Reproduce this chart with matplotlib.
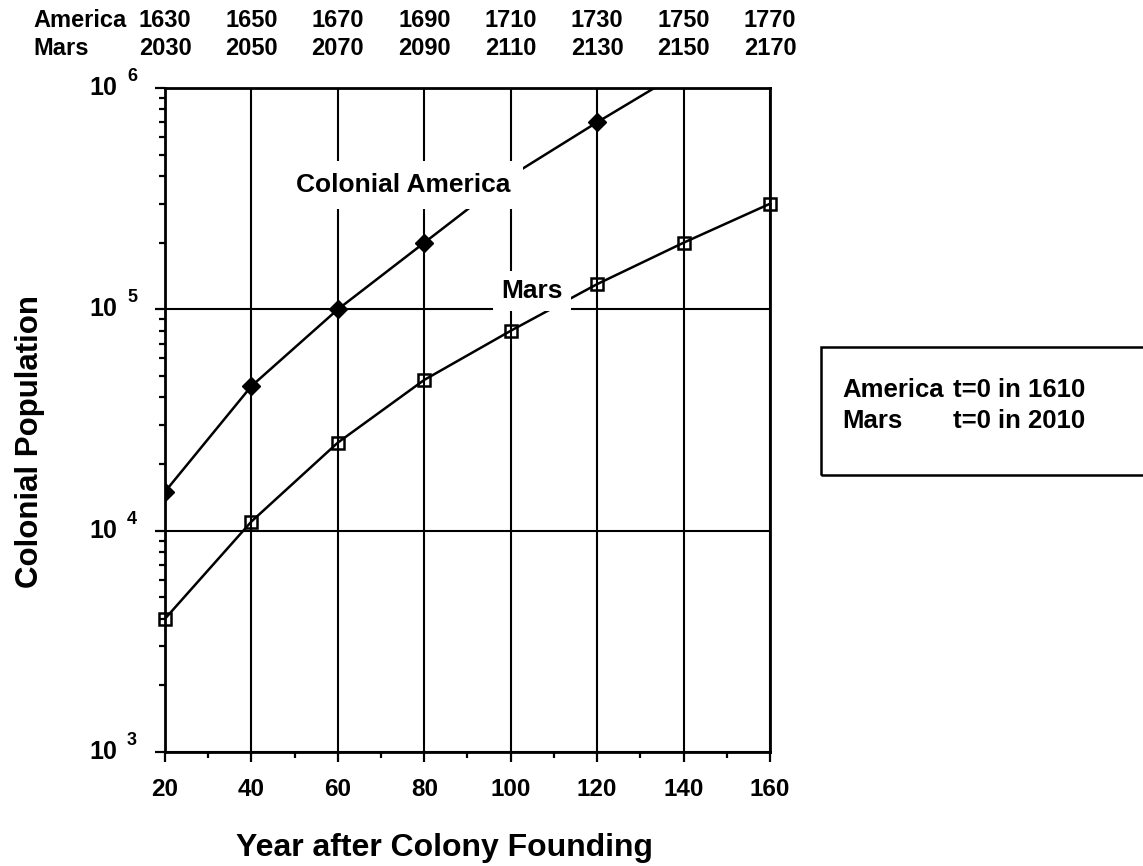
import numpy as np
import matplotlib
matplotlib.use("Agg")
import matplotlib.pyplot as plt
import matplotlib.transforms as mtransforms
from matplotlib.ticker import FixedLocator, MultipleLocator, LogLocator, NullFormatter
from matplotlib.patches import Rectangle

plt.rcParams['font.family'] = ['Liberation Sans', 'DejaVu Sans']
plt.rcParams['font.weight'] = 'bold'

# years after founding
america_t = [20, 40, 60, 80, 100, 120, 140]
america_pop = [15000, 45000, 100000, 200000, 400000, 700000, 1200000]
mars_t = [20, 40, 60, 80, 100, 120, 140, 160]
mars_pop = [4000, 11000, 25000, 48000, 80000, 130000, 200000, 300000]

x_ticks = [20, 40, 60, 80, 100, 120, 140, 160]
y_exps = [3, 4, 5, 6]
america_start = 1610
mars_start = 2010

W, H = 1143, 866
fig = plt.figure(figsize=(W / 100, H / 100), dpi=100)
ax = fig.add_axes([165 / W, 1 - 752 / H, (770 - 165) / W, (752 - 88) / H])

ax.set_yscale('log')
ax.set_xlim(20, 160)
ax.set_ylim(10.0 ** y_exps[0], 10.0 ** y_exps[-1])

ax.plot(america_t, america_pop, color='black', lw=1.8, marker='D', ms=9,
        mfc='black', mec='black', zorder=3)
ax.plot(mars_t, mars_pop, color='black', lw=1.8, marker='s', ms=9,
        mfc='none', mec='black', mew=1.8, zorder=3, clip_on=False)

# ticks and grid
ax.xaxis.set_major_locator(FixedLocator(x_ticks))
ax.xaxis.set_minor_locator(MultipleLocator(10))
ax.yaxis.set_major_locator(FixedLocator([10.0 ** e for e in y_exps]))
ax.yaxis.set_minor_locator(LogLocator(base=10, subs=np.arange(2, 10), numticks=10))
ax.yaxis.set_minor_formatter(NullFormatter())
ax.grid(True, which='major', color='black', lw=1.5, zorder=1)
ax.set_axisbelow(True)

for s in ax.spines.values():
    s.set_linewidth(2.0)

ax.tick_params(axis='both', which='major', direction='out', length=7, width=1.6,
               labelsize=17.5, colors='black')
ax.tick_params(axis='both', which='minor', direction='out', length=4, width=1.6)
ax.tick_params(axis='x', which='major', pad=12)
ax.tick_params(axis='y', which='both', labelleft=False)

# y tick labels written as "10" with a raised exponent
ytrans = mtransforms.blended_transform_factory(fig.transFigure, ax.transData)
sup_trans = mtransforms.offset_copy(ytrans, fig=fig, x=0, y=11.5, units='dots')
for e in y_exps:
    fig.text(117 / W, 10.0 ** e, '10', transform=ytrans, fontsize=18,
             fontweight='bold', ha='right', va='center')
    fig.text(127 / W, 10.0 ** e, str(e), transform=sup_trans, fontsize=13,
             fontweight='bold', ha='left', va='center')

# series labels (white boxes hide the lines behind them)
ax.text(75.2, 3.39e5, 'Colonial America', fontsize=19, fontweight='bold', ha='center',
        va='baseline', zorder=5,
        bbox=dict(boxstyle='square,pad=0.45', fc='white', ec='none'))
ax.text(104.9, 1.13e5, 'Mars', fontsize=19, fontweight='bold', ha='center',
        va='baseline', zorder=5,
        bbox=dict(boxstyle='square,pad=0.3', fc='white', ec='none'))

# calendar year rows above the plot
xtrans = mtransforms.blended_transform_factory(ax.transData, fig.transFigure)
fig.text(33 / W, 1 - 27 / H, 'America', fontsize=17, fontweight='bold', va='baseline')
fig.text(33 / W, 1 - 55 / H, 'Mars', fontsize=17, fontweight='bold', va='baseline')
for t in x_ticks:
    fig.text(t, 1 - 27 / H, str(america_start + t), transform=xtrans, fontsize=17,
             fontweight='bold', ha='center', va='baseline')
    fig.text(t, 1 - 55 / H, str(mars_start + t), transform=xtrans, fontsize=17,
             fontweight='bold', ha='center', va='baseline')

# axis titles
fig.text(445 / W, 1 - 848 / H, 'Year after Colony Founding', fontsize=23,
         fontweight='bold', ha='center', va='center')
fig.text(30 / W, 1 - 441 / H, 'Colonial Population', fontsize=22.5,
         fontweight='bold', ha='center', va='center', rotation=90)

# note box on the right
fig.patches.append(Rectangle((821 / W, 1 - 475 / H), (1160 - 821) / W, (475 - 347) / H,
                             transform=fig.transFigure, fill=False, ec='black',
                             lw=1.8, clip_on=False))
fig.text(842 / W, 1 - 397 / H, 'America', fontsize=18.5, fontweight='bold', va='baseline')
fig.text(953 / W, 1 - 397 / H, 't=0 in %d' % america_start, fontsize=18.5,
         fontweight='bold', va='baseline')
fig.text(842 / W, 1 - 428 / H, 'Mars', fontsize=18.5, fontweight='bold', va='baseline')
fig.text(953 / W, 1 - 428 / H, 't=0 in %d' % mars_start, fontsize=18.5,
         fontweight='bold', va='baseline')

fig.savefig('out.png', dpi=100)
